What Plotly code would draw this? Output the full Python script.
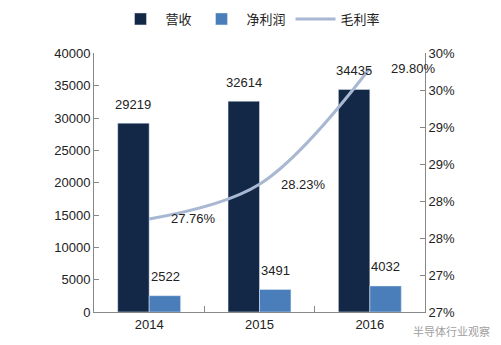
import plotly.graph_objects as go

years = ["2014", "2015", "2016"]
revenue = [29219, 32614, 34435]
net_profit = [2522, 3491, 4032]
gross_margin = [27.76, 28.23, 29.80]
left_ticks = [0, 5000, 10000, 15000, 20000, 25000, 30000, 35000, 40000]
right_tickvals = [26.5, 27.0, 27.5, 28.0, 28.5, 29.0, 29.5, 30.0]
right_ticktext = ["27%", "27%", "28%", "28%", "29%", "29%", "30%", "30%"]

C_DARK = "#132746"
C_LIGHT = "#4A7EBB"
C_LINE = "#A8B7D2"
FONT = "Liberation Sans, Arial, sans-serif"
CJK = "Noto Sans CJK SC, sans-serif"

fig = go.Figure()
fig.add_trace(go.Bar(x=years, y=revenue, name="营收", marker_color=C_DARK))
fig.add_trace(go.Bar(x=years, y=net_profit, name="净利润", marker_color=C_LIGHT))
fig.add_trace(go.Scatter(x=years, y=gross_margin, name="毛利率", yaxis="y2",
                         mode="lines", line=dict(color=C_LINE, width=3, shape="spline", smoothing=1.0)))

annotations = []
# category axes: annotation x given as category index
for i, v in enumerate(revenue):
    annotations.append(dict(x=i, y=v, xref="x", yref="y", text=str(v), showarrow=False,
                            xshift=-16, yshift=19, font=dict(size=13, color="#222", family=FONT)))
for i, v in enumerate(net_profit):
    annotations.append(dict(x=i, y=v, xref="x", yref="y", text=str(v), showarrow=False,
                            xshift=16, yshift=19, font=dict(size=13, color="#222", family=FONT)))
for i, v in enumerate(gross_margin):
    annotations.append(dict(x=i, y=v, xref="x", yref="y2", text=f"{v:.2f}%", showarrow=False,
                            xshift=44, yshift=0, font=dict(size=13, color="#222", family=FONT)))
# watermark (paper coords relative to plot area: x 94..425, y 50..312 px)
annotations.append(dict(x=(492 - 94) / 331, y=(312 - 331) / 262, xref="paper", yref="paper",
                        text="半导体行业观察", showarrow=False, xanchor="right", yanchor="middle",
                        font=dict(size=11, color="#a0a0a0", family=CJK)))

fig.update_layout(
    width=501, height=345,
    margin=dict(l=94, r=76, t=50, b=33),
    paper_bgcolor="white", plot_bgcolor="white",
    barmode="group", bargap=0.43, bargroupgap=0,
    font=dict(family=FONT, size=13, color="#222"),
    showlegend=True,
    legend=dict(orientation="h", xref="container", yref="container", x=0.5, xanchor="center",
                y=1 - 19 / 345, yanchor="middle", font=dict(family=CJK, size=13, color="#222"),
                itemwidth=40, bgcolor="rgba(0,0,0,0)", traceorder="normal"),
    xaxis=dict(type="category", range=[-0.5, 2.5], showline=True, linecolor="#888", linewidth=1,
               ticks="inside", tickson="boundaries", ticklen=6, tickcolor="#888",
               showgrid=False, tickfont=dict(size=13)),
    yaxis=dict(range=[0, 40000], tickvals=left_ticks, tickformat="d", showline=True, linecolor="#888",
               linewidth=1, ticks="inside", ticklen=5, tickcolor="#888", showgrid=False, zeroline=False,
               tickfont=dict(size=13)),
    yaxis2=dict(overlaying="y", side="right", range=[26.5, 30.0], tickvals=right_tickvals,
                ticktext=right_ticktext, showline=True, linecolor="#888", linewidth=1,
                ticks="inside", ticklen=5, tickcolor="#888", showgrid=False, zeroline=False,
                tickfont=dict(size=13)),
    annotations=annotations,
)

fig.write_html("out.html")
